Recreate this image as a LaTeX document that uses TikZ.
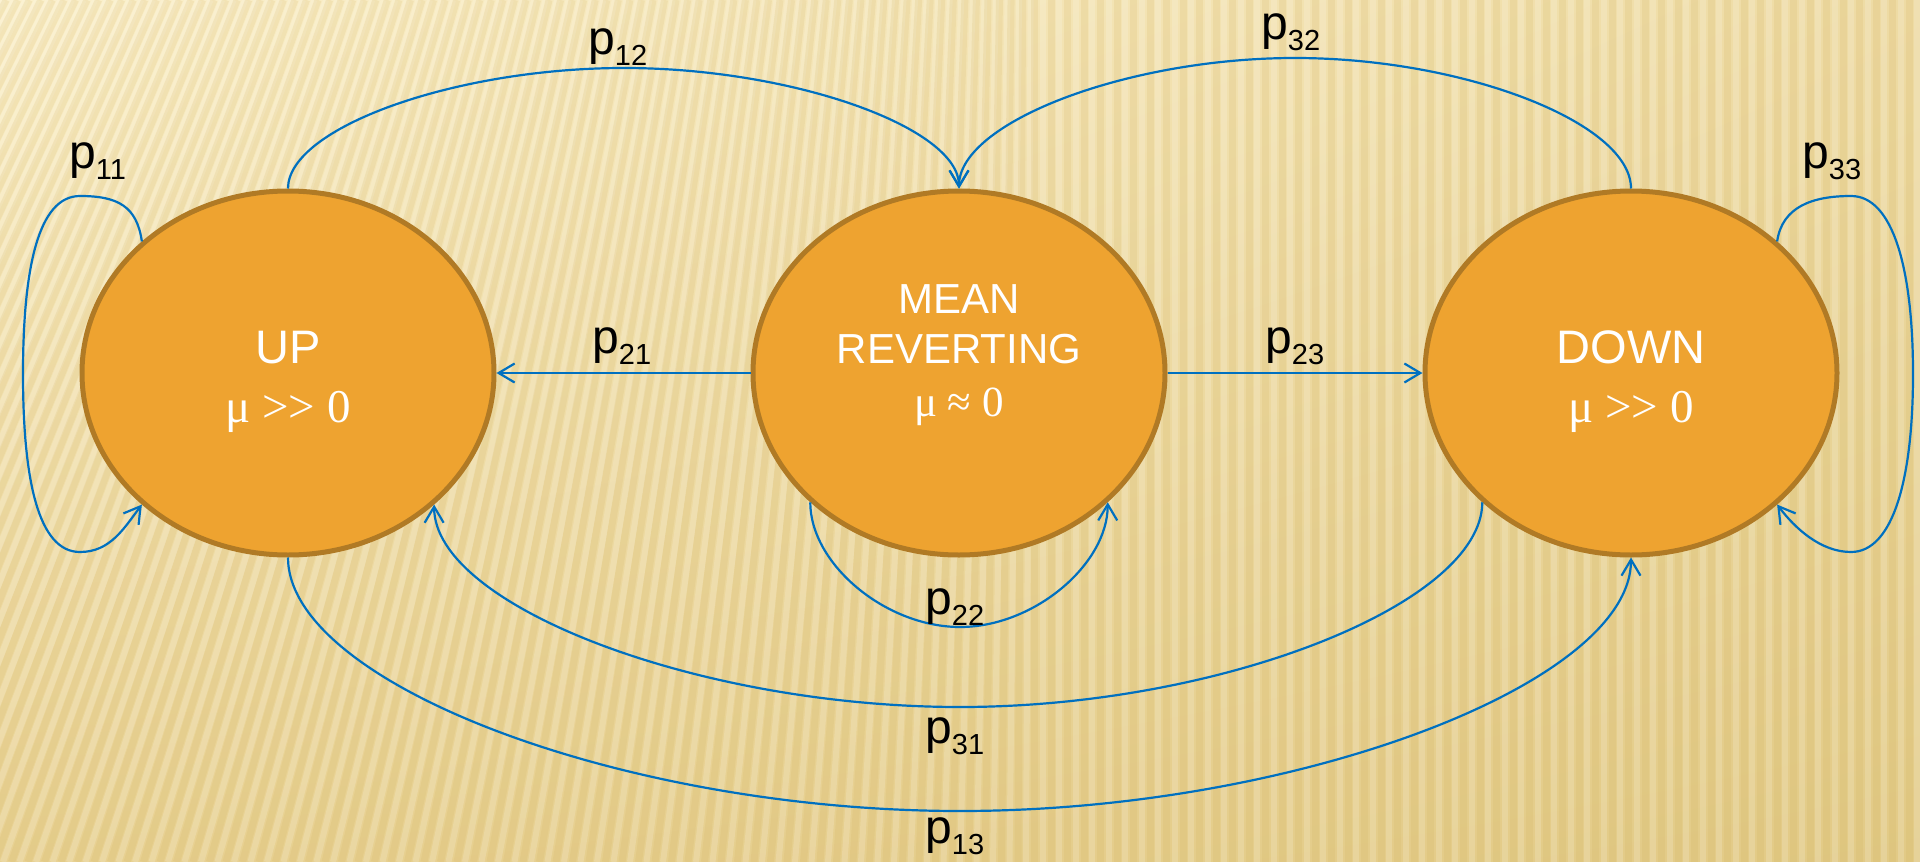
\documentclass[tikz,border=0pt]{standalone}
\usepackage{fontspec}
\setmainfont{Liberation Sans}
\newfontfamily\mufont{Liberation Serif}
\usetikzlibrary{shapes.geometric,arrows.meta,shadings}
\definecolor{statefill}{HTML}{EEA330}
\definecolor{stateborder}{HTML}{B07A25}
\definecolor{edgeblue}{HTML}{0070C0}
\definecolor{bgul}{HTML}{FBF0CB}
\definecolor{bgur}{HTML}{EEDBA4}
\definecolor{bgll}{HTML}{E8D192}
\definecolor{bglr}{HTML}{E2CA86}
\definecolor{stripedark}{HTML}{CFAE5A}
\newcommand\pidx[1]{\raisebox{-11pt}{\fontsize{29}{29}\selectfont #1}}
\begin{document}
\begin{tikzpicture}[x=1pt,y=-1pt,
  stnode/.style={ellipse, draw=stateborder, line width=5pt, fill=statefill,
    minimum width=412pt, minimum height=364pt, inner sep=0pt},
  trans/.style={draw=edgeblue, line width=2.2pt,
    -{Straight Barb[length=16pt,width=19pt]}},
  nametxt/.style={anchor=base, inner sep=0pt, text=white,
    font=\fontsize{47}{47}\selectfont},
  nametxtb/.style={anchor=base, inner sep=0pt, text=white,
    font=\fontsize{42}{42}\selectfont},
  mutxt/.style={anchor=base, inner sep=0pt, text=white,
    font=\mufont\fontsize{47}{47}\selectfont},
  mutxtb/.style={anchor=base, inner sep=0pt, text=white,
    font=\mufont\fontsize{43}{43}\selectfont},
  plabel/.style={anchor=base west, inner sep=0pt, text=black,
    font=\fontsize{48}{48}\selectfont},
  stripe/.style={draw=stripedark, line width=7pt, opacity=0.16},
  stripelight/.style={draw=white, line width=6pt, opacity=0.16}
]
\useasboundingbox (0,0) rectangle (1920,862);
% background
\shade[upper left=bgul, upper right=bgur, lower left=bgll, lower right=bglr]
  (0,0) rectangle (1920,862);
\begin{scope}
  \clip (0,0) rectangle (1920,862);
  \foreach \i in {0,...,150} {
    \pgfmathsetmacro\xa{-500+\i*16.5}
    \pgfmathsetmacro\sl{max(0,310-0.3*\xa)}
    \draw[stripe] (\xa+\sl,0) -- (\xa,862);
    \draw[stripelight] (\xa+\sl+8,0) -- (\xa+8,862);
  }
\end{scope}

% states
\node[stnode] (up) at (288,373) {};
\node[stnode] (mean) at (959,373) {};
\node[stnode] (down) at (1631,373) {};

\node[nametxt] (up-name) at (288,363) {UP};
\node[mutxt] (up-mu) at (288,422) {μ >\kern0pt> 0};
\node[nametxtb] (mean-name1) at (959,313) {MEAN};
\node[nametxtb] (mean-name2) at (959,363) {REVERTING};
\node[mutxtb] (mean-mu) at (959,416) {μ ≈ 0};
\node[nametxt] (down-name) at (1631,363) {DOWN};
\node[mutxt] (down-mu) at (1631,422) {μ >\kern0pt> 0};

% helper coordinates
\coordinate (c12) at (624,68);
\coordinate (c32) at (1295,58);
\coordinate (c22) at (960,627);
\coordinate (c31) at (960,707);
\coordinate (c13) at (960,811);
\coordinate (t11) at (80,196);
\coordinate (l11) at (23,374);
\coordinate (b11) at (80,552);
\coordinate (t33) at (1851,196);
\coordinate (r33) at (1913,374);
\coordinate (b33) at (1851,552);

% transitions
\draw[trans] (up.138) .. controls +(-5,-35) and +(38,0) .. (t11)
  .. controls +(-42,0) and +(0,-105) .. (l11)
  .. controls +(0,105) and +(-42,0) .. (b11)
  .. controls +(30,0) and +(-18,24) .. (up.222);
\draw[trans] (up.north) .. controls +(0,-61) and +(-168,0) .. (c12)
  .. controls +(168,0) and +(0,-61) .. (mean.north);
\draw[trans] (down.north) .. controls +(0,-66) and +(168,0) .. (c32)
  .. controls +(-168,0) and +(0,-66) .. (mean.north);
\draw[trans] (mean.west) -- (up.east);
\draw[trans] (mean.east) -- (down.west);
\draw[trans] (mean.221) .. controls +(0,62) and +(-74,0) .. (c22)
  .. controls +(74,0) and +(0,62) .. (mean.-41);
\draw[trans] (down.221) .. controls +(0,101) and +(262,0) .. (c31)
  .. controls +(-262,0) and +(0,101) .. (up.-42);
\draw[trans] (up.south) .. controls +(0,126) and +(-336,0) .. (c13)
  .. controls +(336,0) and +(0,126) .. (down.south);
\draw[trans] (down.42) .. controls +(5,-35) and +(-38,0) .. (t33)
  .. controls +(42,0) and +(0,-105) .. (r33)
  .. controls +(0,105) and +(42,0) .. (b33)
  .. controls +(-30,0) and +(18,24) .. (down.-42);

% labels
\node[plabel] (lab11) at (69,168) {p\pidx{11}};
\node[plabel] (lab12) at (588,54) {p\pidx{12}};
\node[plabel] (lab32) at (1261,39) {p\pidx{32}};
\node[plabel] (lab21) at (592,353) {p\pidx{21}};
\node[plabel] (lab23) at (1265,353) {p\pidx{23}};
\node[plabel] (lab22) at (925,614) {p\pidx{22}};
\node[plabel] (lab31) at (925,743) {p\pidx{31}};
\node[plabel] (lab13) at (925,843) {p\pidx{13}};
\node[plabel] (lab33) at (1802,168) {p\pidx{33}};
\end{tikzpicture}
\end{document}
